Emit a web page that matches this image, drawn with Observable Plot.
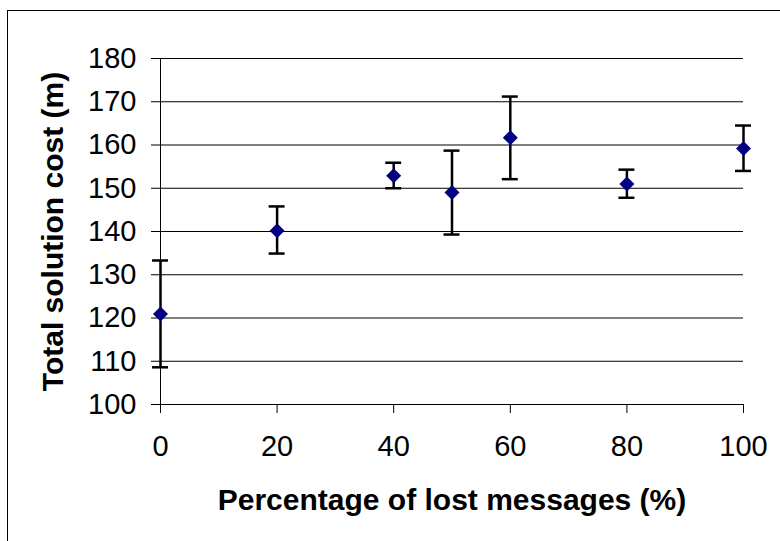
<!DOCTYPE html>
<html>
<head>
<meta charset="utf-8">
<script src="https://cdn.jsdelivr.net/npm/d3@7"></script>
<script src="https://cdn.jsdelivr.net/npm/@observablehq/plot@0.6"></script>
<style>
  html, body { margin: 0; padding: 0; background: #fff; overflow: hidden; }
  #wrap { position: relative; width: 780px; height: 541px; overflow: hidden; }
  #border { position: absolute; left: 7px; top: 10px; width: 820px; height: 600px; border: 1px solid #000; box-sizing: border-box; pointer-events: none; }
  #chart { position: absolute; left: 0; top: 0; }
</style>
</head>
<body>
<div id="wrap"><div id="chart"></div><div id="border"></div></div>
<script>
// Data
const lostPct = [0, 20, 40, 50, 60, 80, 100];
const meanCost = [120.9, 140.2, 152.9, 149.0, 161.7, 151.0, 159.2];
const lowCost = [108.6, 134.9, 150.0, 139.3, 152.1, 147.8, 154.0];
const highCost = [133.3, 145.8, 155.9, 158.7, 171.2, 154.3, 164.5];
const xTicks = [0, 20, 40, 60, 80, 100];
const yTicks = [100, 110, 120, 130, 140, 150, 160, 170, 180];
const xTitle = "Percentage of lost messages (%)";
const yTitle = "Total solution cost (m)";

const data = lostPct.map((x, i) => ({x, mean: meanCost[i], lo: lowCost[i], hi: highCost[i]}));
const capHalf = 1.37; // cap half-width in x units

const chart = Plot.plot({
  width: 780,
  height: 541,
  marginLeft: 160,
  marginRight: 37,
  marginTop: 58,
  marginBottom: 137,
  style: {fontFamily: "'Liberation Sans', Arial, sans-serif", background: "transparent"},
  x: {domain: [0, 100]},
  y: {domain: [100, 180]},
  marks: [
    Plot.ruleY(yTicks, {stroke: "#000", strokeWidth: 1}),
    Plot.ruleX([0], {stroke: "#000", strokeWidth: 1}),
    Plot.axisY({ticks: yTicks, tickSize: 9, tickPadding: 15, fontSize: 29, label: null, stroke: "#000", strokeOpacity: 1, fill: "#000"}),
    Plot.axisX({ticks: xTicks, tickSize: 9, tickPadding: 22, fontSize: 29, label: null, stroke: "#000", strokeOpacity: 1, fill: "#000"}),
    Plot.ruleX(data, {x: "x", y1: "lo", y2: "hi", stroke: "#000", strokeWidth: 2.5}),
    Plot.ruleY(data, {y: "lo", x1: d => d.x - capHalf, x2: d => d.x + capHalf, stroke: "#000", strokeWidth: 2.5, clip: false}),
    Plot.ruleY(data, {y: "hi", x1: d => d.x - capHalf, x2: d => d.x + capHalf, stroke: "#000", strokeWidth: 2.5, clip: false}),
    Plot.dot(data, {x: "x", y: "mean", symbol: "diamond2", r: 6.75, fill: "#000080", stroke: "none"}),
    Plot.text([xTitle], {frameAnchor: "bottom", dy: 96, lineAnchor: "middle", fontSize: 30, fontWeight: "bold", fill: "#000"}),
    Plot.text([yTitle], {frameAnchor: "left", dx: -107, rotate: -90, textAnchor: "middle", lineAnchor: "middle", fontSize: 30, fontWeight: "bold", fill: "#000"})
  ]
});
document.getElementById("chart").appendChild(chart);
</script>
</body>
</html>
